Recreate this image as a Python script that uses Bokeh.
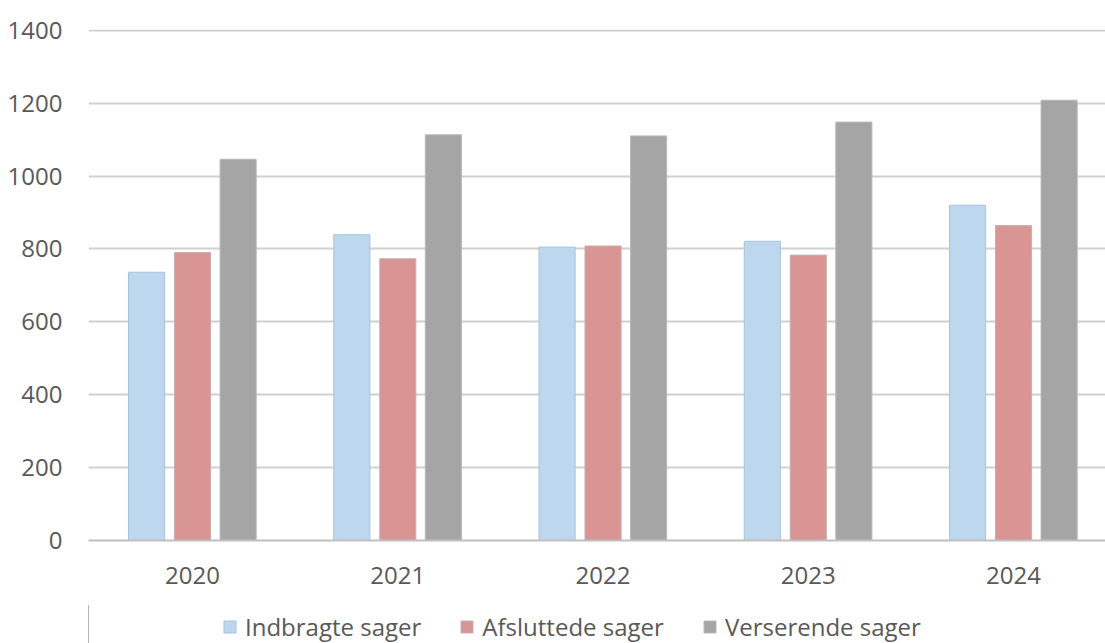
from bokeh.plotting import figure
from bokeh.layouts import column
from bokeh.models import ColumnDataSource, FixedTicker, Range1d, Legend, LegendItem
from bokeh.transform import dodge
from bokeh.embed import file_html
from bokeh.resources import INLINE

years = ["2020", "2021", "2022", "2023", "2024"]
indbragte = [736, 839, 805, 821, 920]
afsluttede = [790, 773, 808, 783, 864]
verserende = [1046, 1113, 1110, 1148, 1208]
series_names = ["Indbragte sager", "Afsluttede sager", "Verserende sager"]
colors = ["#BDD7EE", "#D99594", "#A5A5A5"]
edges = ["#A9C3DC", "#C8AFAF", "#B8B8B8"]
y_ticks = [0, 200, 400, 600, 800, 1000, 1200, 1400]

xi = list(range(len(years)))
source = ColumnDataSource(dict(xi=xi, indbragte=indbragte, afsluttede=afsluttede, verserende=verserende))

FONT = "Open Sans"
p = figure(width=1105, height=605,
           output_backend="svg", toolbar_location=None,
           x_range=Range1d(-0.507, 4.448), y_range=Range1d(0, 1402),
           min_border_left=88, min_border_right=0, min_border_top=29, min_border_bottom=65)
p.outline_line_color = None
p.background_fill_color = "white"
p.border_fill_color = "white"

bw = 0.176
cols = ["indbragte", "afsluttede", "verserende"]
offsets = [-0.224, 0.0, 0.222]
for c, off, fc, lc in zip(cols, offsets, colors, edges):
    p.vbar(x=dodge("xi", off, range=p.x_range), top=c, width=bw, source=source,
           fill_color=fc, line_color=lc, line_width=1)

# axes
p.xaxis.ticker = FixedTicker(ticks=xi)
p.xaxis.major_label_overrides = {i: y for i, y in enumerate(years)}
p.xaxis.major_tick_line_color = None
p.xaxis.minor_tick_line_color = None
p.xaxis.axis_line_color = "#BFBFBF"
p.xaxis.axis_line_width = 2
p.xaxis.major_label_standoff = 20
p.xaxis.major_label_text_font = FONT
p.xaxis.major_label_text_font_size = "24px"
p.xaxis.major_label_text_color = "#595959"

p.yaxis.ticker = FixedTicker(ticks=y_ticks)
p.yaxis.major_tick_line_color = None
p.yaxis.minor_tick_line_color = None
p.yaxis.axis_line_color = None
p.yaxis.major_label_standoff = 20
p.yaxis.major_label_text_font = FONT
p.yaxis.major_label_text_font_size = "24px"
p.yaxis.major_label_text_color = "#595959"

p.xgrid.grid_line_color = None
p.ygrid.grid_line_color = "#D0D0D0"
p.ygrid.grid_line_width = 2

# legend strip below the chart (its bars lie outside this strip's ranges)
p2 = figure(width=1105, height=38, output_backend="svg", toolbar_location=None,
            x_axis_type=None, y_axis_type=None,
            x_range=Range1d(20, 21), y_range=Range1d(0, 1),
            min_border_left=0, min_border_right=0, min_border_top=0, min_border_bottom=0)
p2.outline_line_color = None
p2.xgrid.grid_line_color = None
p2.ygrid.grid_line_color = None
items = []
for name, c, off, fc, lc in zip(series_names, cols, offsets, colors, edges):
    r = p2.vbar(x=dodge("xi", off, range=p2.x_range), top=c, width=bw, source=source,
                fill_color=fc, line_color=lc, line_width=1)
    items.append(LegendItem(label=name, renderers=[r]))

legend = Legend(items=items, orientation="horizontal", location=(134, 0),
                label_text_font=FONT, label_text_font_size="24px", label_text_color="#595959",
                glyph_width=15, glyph_height=15, label_standoff=8, spacing=38,
                padding=0, margin=0, border_line_color=None, background_fill_alpha=0)
p2.add_layout(legend, "center")

layout = column(p, p2, spacing=0)
open("out.html", "w").write(file_html(layout, INLINE))
